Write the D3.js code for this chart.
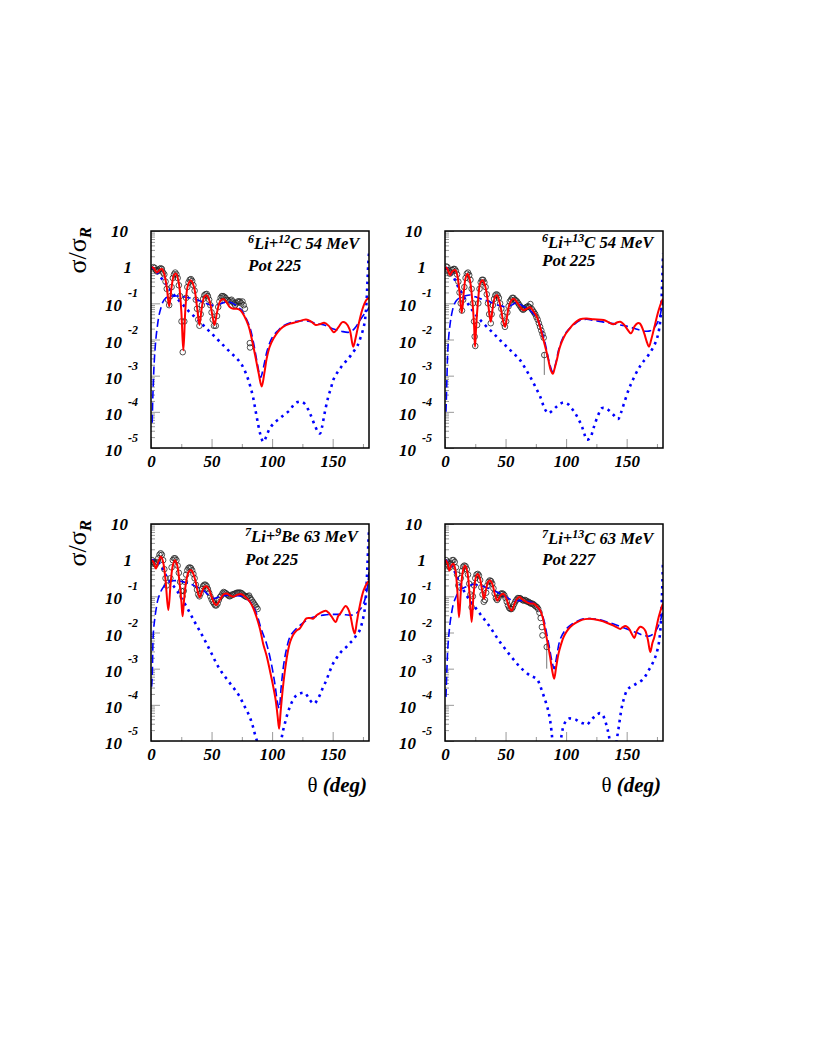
<!DOCTYPE html>
<html><head><meta charset="utf-8">
<script src="https://cdn.jsdelivr.net/npm/d3@7"></script>
<style>body{margin:0;background:#fff}</style>
</head><body>
<svg id="c" width="817" height="1058"></svg>
<script>
// ---- DATA (angles in degrees, values given as log10(sigma/sigma_R)) ----
const xMajorTicks=[0,50,100,150];
const xMinorTicks=[25,75,125,175];
const yDecades=[1,0,-1,-2,-3,-4,-5];
const titleParts=[["6","Li+","12","C 54 MeV"],["6","Li+","13","C 54 MeV"],["7","Li+","9","Be 63 MeV"],["7","Li+","13","C 63 MeV"]];
const potLabels=["Pot 225","Pot 225","Pot 225","Pot 227"];

// Panel 1: 6Li+12C 54 MeV
const red1=[[0.5,0.0],[2,-0.02],[5,-0.15],[7,-0.08],[9,-0.05],[11,-0.2],[13,-0.55],[15,-1.08],[17,-0.55],[19,-0.22],[20.7,-0.18],[23,-0.45],[25,-1.2],[26.7,-2.3],[28.5,-1.1],[30.5,-0.5],[33,-0.37],[35.5,-0.55],[38,-1.1],[40,-1.6],[42,-1.1],[44,-0.82],[46,-0.78],[48.5,-0.95],[50.5,-1.3],[52.4,-1.6],[54.5,-1.25],[57,-0.95],[59.5,-0.88],[62,-0.95],[65,-1.1],[68,-1.15],[71,-1.15],[74,-1.2],[77,-1.35],[80.5,-1.62],[83,-1.95],[86,-2.44],[89,-2.95],[91.4,-3.3],[93.5,-2.95],[95.5,-2.53],[98,-2.2],[101,-1.98],[105,-1.78],[109,-1.65],[115,-1.56],[120,-1.52],[128,-1.45],[132,-1.5],[136,-1.6],[140,-1.57],[143,-1.54],[147,-1.63],[151,-1.8],[155,-1.65],[158,-1.52],[161,-1.55],[164,-1.72],[167,-2.2],[169,-1.95],[170.5,-1.72],[174.5,-1.17],[178,-0.9],[180,-0.85]];
const dash1=[[1,-4.3],[1.5,-3.6],[2.7,-2.6],[4,-2.0],[5,-1.7],[6.5,-1.35],[8,-1.15],[10,-0.95],[12,-0.86],[15,-0.8],[19,-0.8],[23,-0.8],[27,-0.82],[32,-0.85],[38,-0.9],[44,-0.98],[50,-1.05],[54,-1.05],[60,-0.98],[65.5,-0.97],[70,-1.05],[75,-1.2],[79,-1.45],[82,-1.7],[85,-2.15],[88,-2.7],[90.5,-3.05],[93,-2.75],[96,-2.3],[100,-1.95],[105,-1.75],[109,-1.63],[117,-1.52],[125,-1.48],[131,-1.5],[136,-1.55],[143,-1.6],[150,-1.7],[157,-1.77],[163.6,-1.8],[168,-1.7],[172,-1.5],[176,-1.3],[178.6,-1.2],[180,-1.1]];
const dot1=[[0.5,0.0],[4,-0.1],[8,-0.28],[12,-0.45],[16.4,-0.65],[21,-0.85],[27,-1.06],[32,-1.25],[38,-1.43],[43,-1.6],[49,-1.8],[55,-2.0],[60,-2.17],[66,-2.37],[71,-2.53],[75,-2.7],[79,-2.99],[82,-3.3],[84.5,-3.63],[86.5,-4.0],[88.6,-4.37],[90.5,-4.65],[92.7,-4.83],[95,-4.7],[98,-4.46],[102,-4.3],[106,-4.19],[110,-4.08],[114.5,-3.96],[118,-3.8],[121,-3.73],[124,-3.72],[127,-3.78],[130,-3.95],[132,-4.1],[135,-4.35],[138,-4.56],[139.5,-4.6],[141,-4.45],[143,-4.1],[146,-3.63],[148.5,-3.35],[151,-3.08],[154.5,-2.88],[158,-2.72],[162,-2.56],[165,-2.44],[168,-2.3],[170.5,-2.17],[173,-1.95],[176,-1.6],[177.5,-1.2],[178.6,-0.5],[179.4,0.1],[180,0.4]];
const exp1=[[2,0.0],[3,-0.02],[4,-0.08],[5,-0.12],[6,-0.1],[7,-0.05],[8,-0.03],[9,-0.05],[10,-0.15],[11,-0.2],[12,-0.4],[13,-0.6],[14,-0.9],[15,-1.05],[16,-0.8],[17,-0.55],[18,-0.3],[19,-0.2],[20,-0.15],[21,-0.2],[22,-0.3],[23,-0.5],[24,-0.8],[25.2,-1.5],[26.2,-2.35],[27.5,-1.5],[29,-0.85],[30,-0.55],[31,-0.42],[32,-0.35],[33,-0.33],[34,-0.38],[35,-0.5],[36,-0.65],[37,-0.9],[38,-1.15],[39,-1.45],[40,-1.62],[41,-1.3],[42,-1.05],[43,-0.88],[44,-0.78],[45,-0.75],[46,-0.74],[47,-0.8],[48,-0.9],[49,-1.05],[50,-1.25],[51,-1.45],[52,-1.62],[53.5,-1.62],[54.5,-1.35],[55.5,-1.1],[56.5,-0.95],[57.5,-0.85],[58.5,-0.8],[59.5,-0.8],[60.5,-0.82],[61.5,-0.85],[62.5,-0.9],[63.5,-0.92],[64.5,-0.95],[65.5,-0.92],[66.5,-0.9],[67.5,-0.95],[68.5,-1.0],[69.5,-1.05],[70.5,-1.0],[71.5,-0.95],[72.5,-0.95],[73.5,-0.95],[74.5,-1.0],[75.5,-0.95],[76.5,-1.05],[77.5,-1.15],[81.6,-2.1],[81.8,-2.22]];
const err1=[];

// Panel 2: 6Li+13C 54 MeV
const red2=[[0.5,0.0],[2,-0.05],[4.1,-0.22],[6,-0.12],[8.3,-0.08],[10,-0.2],[12,-0.7],[13.8,-1.26],[15.5,-0.7],[17,-0.3],[18.7,-0.18],[20.5,-0.35],[22.5,-0.9],[24,-1.6],[24.8,-2.2],[25.8,-1.6],[27.5,-0.85],[29,-0.45],[31,-0.36],[33,-0.5],[35,-0.85],[36.5,-1.25],[37.8,-1.51],[39.3,-1.15],[41,-0.85],[42.7,-0.77],[44.5,-0.9],[46.5,-1.2],[48,-1.5],[49.6,-1.65],[51.3,-1.35],[53.5,-1.0],[56.5,-0.87],[59,-0.95],[62,-1.1],[64.8,-1.19],[67.5,-1.15],[70.3,-1.11],[73,-1.22],[75.8,-1.37],[78.5,-1.65],[81.3,-2.01],[83.5,-2.3],[85.4,-2.57],[87.3,-2.85],[89,-2.95],[90.5,-2.8],[92.3,-2.57],[94.5,-2.25],[96.5,-2.06],[99,-1.88],[102,-1.74],[106,-1.58],[111.6,-1.44],[117,-1.42],[122.7,-1.44],[131,-1.46],[135,-1.52],[139,-1.58],[142,-1.53],[144.7,-1.51],[147.5,-1.58],[150,-1.69],[153.5,-1.83],[156.6,-1.63],[159,-1.55],[161,-1.56],[164.5,-1.83],[166.5,-2.05],[168.4,-2.2],[170.3,-2.0],[172.3,-1.74],[176.4,-1.19],[179.4,-0.91],[180,-0.88]];
const dash2=[[0.8,-4.0],[1.5,-3.2],[2.2,-2.38],[3,-1.95],[4.1,-1.6],[5.5,-1.3],[7.4,-1.05],[9.5,-0.92],[12.4,-0.84],[16,-0.8],[20.7,-0.77],[25,-0.82],[29,-0.87],[35,-0.93],[40,-1.0],[45,-1.06],[51,-1.1],[55,-1.05],[59,-0.98],[63,-1.05],[67.5,-1.14],[72,-1.25],[75.8,-1.4],[78.5,-1.62],[81.3,-1.92],[84,-2.3],[86.3,-2.66],[89,-2.89],[91.5,-2.65],[93.7,-2.3],[97,-1.98],[100.6,-1.78],[106,-1.6],[111.6,-1.47],[117,-1.44],[122.7,-1.47],[131,-1.52],[139,-1.56],[145,-1.6],[150,-1.63],[156,-1.69],[161,-1.74],[165,-1.77],[169.5,-1.76],[172.5,-1.68],[175,-1.56],[177.5,-1.35],[179,-1.1],[180,-0.95]];
const dot2=[[0.8,0.0],[3.5,-0.12],[6.9,-0.27],[9.5,-0.45],[12.4,-0.64],[16.5,-0.88],[20.7,-1.1],[25,-1.3],[29,-1.46],[34.5,-1.65],[40,-1.83],[45.5,-2.02],[51,-2.2],[56.5,-2.38],[62,-2.57],[66,-2.78],[70.3,-3.03],[74.5,-3.3],[78.6,-3.58],[82.7,-3.94],[85.4,-4.04],[88.5,-3.97],[92.3,-3.85],[95,-3.78],[97.8,-3.74],[100,-3.76],[102,-3.8],[105,-3.92],[107.5,-4.04],[110.5,-4.22],[113,-4.4],[115,-4.6],[117,-4.77],[120,-4.72],[122,-4.52],[124,-4.31],[127,-4.05],[129.5,-3.9],[132.5,-3.9],[135,-3.95],[139,-4.08],[142.8,-4.2],[145,-4.05],[147.5,-3.8],[151.6,-3.39],[154,-3.2],[157,-2.98],[160,-2.8],[162.6,-2.66],[168,-2.43],[173.6,-2.1],[176,-1.85],[177.8,-1.46],[179.4,-0.36],[180,0.37]];
const exp2=[[1,0.02],[2,0.0],[3,-0.1],[4,-0.18],[5,-0.15],[6,-0.08],[7,-0.05],[8,-0.05],[9,-0.1],[10,-0.2],[11,-0.4],[12,-0.7],[13,-1.0],[14,-1.2],[15,-0.9],[16,-0.55],[17,-0.3],[18,-0.18],[19,-0.15],[20,-0.22],[21,-0.35],[22,-0.6],[23,-1.0],[24,-1.5],[24.5,-1.92],[25,-2.18],[26.5,-1.6],[27.5,-1.0],[28.5,-0.6],[29.5,-0.42],[30.5,-0.35],[31.5,-0.35],[32.5,-0.42],[33.5,-0.55],[34.5,-0.75],[35.5,-1.0],[36.5,-1.3],[37.8,-1.55],[38.5,-1.3],[39.5,-1.05],[40.5,-0.88],[41.5,-0.78],[42.5,-0.75],[43.5,-0.78],[44.5,-0.85],[45.5,-1.0],[46.5,-1.15],[47.5,-1.35],[48.5,-1.55],[49.5,-1.65],[50.5,-1.5],[51.5,-1.25],[52.5,-1.08],[53.5,-0.95],[54.5,-0.9],[55.5,-0.85],[56.5,-0.85],[57.5,-0.9],[58.5,-0.92],[59.5,-0.95],[60.5,-1.0],[61.5,-1.05],[62.5,-1.1],[63.5,-1.15],[64.5,-1.18],[65.5,-1.15],[66.5,-1.12],[67.5,-1.1],[68.5,-1.08],[69.5,-1.1],[70.5,-1.02],[71.5,-1.15],[72.5,-1.2],[73.5,-1.25],[74.5,-1.3],[75.5,-1.38],[76.5,-1.45],[77.5,-1.55],[78.5,-1.65],[79.5,-1.75],[80.5,-1.85],[81.5,-1.95],[82,-2.43]];
const err2=[[82,-2.98,-2.35]];

// Panel 3: 7Li+9Be 63 MeV
const red3=[[0.5,0.0],[2,-0.05],[4.1,-0.23],[6,-0.05],[8.2,0.1],[10,-0.05],[12,-0.55],[14.3,-1.38],[16.3,-0.6],[18,-0.15],[19.8,0.0],[21.5,-0.12],[23.5,-0.6],[25,-1.1],[26.1,-1.55],[27.3,-1.1],[29,-0.6],[31,-0.33],[33,-0.27],[35,-0.38],[37,-0.62],[38.8,-0.9],[40.4,-1.03],[42,-0.88],[43.8,-0.75],[45.9,-0.72],[48,-0.82],[50,-1.0],[52,-1.18],[54.1,-1.24],[56,-1.15],[58.5,-1.0],[60.5,-0.93],[62.4,-0.92],[65,-0.97],[67.9,-1.01],[71,-0.96],[74.7,-0.94],[78,-1.02],[81.6,-1.15],[84.5,-1.33],[87.1,-1.57],[90,-1.9],[92.6,-2.31],[95.5,-2.65],[98.1,-3.04],[100.5,-3.42],[103,-3.88],[104.5,-4.3],[105.8,-4.66],[107,-4.2],[109,-3.5],[111,-2.95],[113.2,-2.49],[115,-2.25],[117.3,-2.07],[120,-1.95],[122.8,-1.89],[125.5,-1.75],[128.3,-1.61],[131,-1.6],[133.8,-1.62],[136.5,-1.53],[139.3,-1.47],[144.3,-1.4],[146.5,-1.45],[148.9,-1.55],[152.5,-1.71],[154.5,-1.55],[156.4,-1.47],[160.8,-1.27],[162.8,-1.35],[164.9,-1.57],[166.5,-1.85],[168.2,-2.03],[170,-1.7],[171.7,-1.38],[175.6,-0.83],[179.2,-0.6],[180,-0.58]];
const dash3=[[0.5,-3.5],[1,-3.23],[1.9,-2.03],[3,-1.65],[4.1,-1.38],[5.5,-1.12],[7.4,-0.92],[9.5,-0.78],[11.5,-0.69],[14.5,-0.62],[18.4,-0.57],[22,-0.57],[26.7,-0.6],[30.5,-0.64],[34.9,-0.69],[39,-0.76],[43.1,-0.83],[47,-0.95],[51.4,-1.06],[55.5,-1.02],[59.6,-0.98],[65,-0.97],[70.6,-0.98],[74.7,-1.0],[78.9,-1.06],[83,-1.2],[87.1,-1.48],[91,-1.9],[95.4,-2.31],[99,-2.8],[102.2,-3.4],[104.5,-3.95],[105.8,-4.1],[107.5,-3.5],[109.5,-2.9],[111.8,-2.47],[115,-2.1],[120,-1.89],[125,-1.75],[131,-1.61],[137,-1.55],[142,-1.52],[147,-1.5],[153,-1.5],[158,-1.5],[164,-1.52],[168,-1.5],[172.3,-1.38],[175.5,-1.2],[177.8,-0.92],[179.7,-0.45],[180,-0.3]];
const dot3=[[0.5,0.0],[4,-0.02],[7.4,-0.1],[10,-0.25],[12.9,-0.46],[17,-0.65],[21.2,-0.83],[25,-1.05],[29.4,-1.29],[33.5,-1.55],[37.6,-1.8],[41.8,-2.05],[45.9,-2.31],[50,-2.58],[54.1,-2.86],[58,-3.08],[62.4,-3.28],[66.5,-3.46],[70.6,-3.64],[74,-3.82],[76.1,-3.97],[79,-4.15],[81.6,-4.34],[84,-4.58],[85.7,-4.8],[87.5,-5.0],[89,-5.2],[95,-5.7],[100,-5.9],[104,-5.6],[106.5,-5.2],[107.7,-4.95],[109,-4.72],[110.5,-4.52],[112.5,-4.27],[114.6,-4.06],[117,-3.88],[120,-3.74],[123.5,-3.68],[127,-3.67],[129,-3.75],[131,-3.86],[134.7,-3.97],[137,-3.88],[139.3,-3.74],[142,-3.52],[144.8,-3.32],[147.5,-3.08],[150.3,-2.86],[153,-2.72],[155.8,-2.58],[158.5,-2.48],[161.3,-2.4],[164,-2.3],[166.8,-2.21],[169.5,-2.08],[172.3,-1.94],[174.5,-1.7],[176.4,-1.38],[177.5,-1.0],[178.3,-0.46],[179.7,0.65],[180,0.8]];
const exp3=[[1,0.0],[2,-0.05],[3,-0.1],[4,-0.12],[5,-0.05],[6,0.05],[7,0.15],[8,0.19],[9,0.15],[10,0.0],[11,-0.25],[12,-0.5],[13,-0.7],[16,-0.5],[17,-0.2],[18,0.0],[19,0.05],[20,0.05],[21,0.0],[22,-0.15],[23,-0.35],[24,-0.6],[25,-0.85],[26,-1.0],[27,-0.85],[28,-0.6],[29,-0.4],[30,-0.28],[31,-0.22],[32,-0.2],[33,-0.22],[34,-0.28],[35,-0.38],[36,-0.5],[37,-0.68],[38,-0.82],[39,-0.95],[40,-1.0],[41,-0.92],[42,-0.8],[43,-0.72],[44,-0.68],[45,-0.68],[46,-0.72],[47,-0.8],[48,-0.9],[49,-1.0],[50,-1.08],[51,-1.15],[52,-1.2],[53,-1.25],[54,-1.25],[55,-1.2],[56,-1.1],[57,-1.02],[58,-0.98],[59,-0.92],[60,-0.88],[61,-0.9],[62,-0.92],[63,-0.95],[64,-0.98],[65,-1.0],[66,-0.98],[67,-0.95],[68,-0.95],[69,-0.93],[70,-0.92],[71,-0.9],[72,-0.9],[73,-0.9],[74,-0.9],[75,-0.92],[76,-0.95],[77,-0.98],[78,-1.0],[79,-1.02],[80,-1.0],[81,-0.98],[82,-1.05],[83,-1.1],[84,-1.15],[85,-1.2],[86,-1.25],[87,-1.3],[88,-1.35]];
const err3=[];

// Panel 4: 7Li+13C 63 MeV
const red4=[[0.5,0.0],[2,-0.08],[3.6,-0.29],[5.2,-0.15],[6.9,-0.1],[8.5,-0.25],[10,-0.75],[11.6,-1.58],[13.2,-0.8],[14.8,-0.3],[16.5,-0.15],[18.3,-0.3],[20.3,-0.95],[22,-1.71],[23.6,-0.95],[25.3,-0.5],[27,-0.38],[28.8,-0.5],[30.5,-0.8],[32.2,-1.07],[34,-0.8],[35.6,-0.6],[37.2,-0.56],[39,-0.65],[41.2,-0.95],[43.3,-1.12],[45.6,-0.98],[48.2,-0.93],[50.5,-1.05],[53,-1.3],[55.1,-1.39],[57.5,-1.2],[59.5,-1.07],[61.5,-1.02],[64.5,-1.1],[67.5,-1.16],[70.3,-1.2],[73,-1.2],[76,-1.28],[78.6,-1.39],[80.8,-1.6],[82.7,-1.94],[84.8,-2.3],[86.8,-2.68],[88.5,-3.05],[90.1,-3.28],[91.8,-2.95],[93.7,-2.59],[95.8,-2.33],[97.9,-2.13],[100.5,-1.97],[103.4,-1.85],[107.5,-1.74],[111.6,-1.67],[115.7,-1.63],[119.9,-1.62],[124,-1.64],[128.2,-1.67],[133.5,-1.73],[139.2,-1.81],[142,-1.86],[144.7,-1.9],[146.8,-1.85],[148.8,-1.82],[150.6,-1.85],[152.4,-1.92],[154.4,-2.05],[156.3,-2.15],[158.5,-1.95],[161.2,-1.84],[163.4,-1.87],[165.4,-1.95],[167.5,-2.2],[169.5,-2.54],[171.2,-2.3],[172.8,-2.13],[174.6,-1.85],[176.4,-1.58],[179.4,-1.25],[180,-1.2]];
const dash4=[[0.8,-3.78],[1.5,-3.1],[2.2,-2.5],[3.1,-2.1],[4.1,-1.76],[5.5,-1.45],[6.9,-1.21],[9,-1.02],[11,-0.89],[13.5,-0.8],[16.5,-0.75],[20,-0.7],[23.4,-0.67],[27.5,-0.69],[31.7,-0.73],[36,-0.78],[40,-0.84],[44,-0.9],[48.2,-0.98],[52,-1.05],[56.5,-1.12],[60.5,-1.12],[64.8,-1.12],[69,-1.15],[73,-1.19],[76.5,-1.3],[79.9,-1.48],[82,-1.7],[84,-2.04],[86,-2.38],[88.2,-2.78],[90.1,-3.0],[92,-2.7],[95,-2.2],[99,-1.95],[103.4,-1.8],[108.5,-1.7],[114.4,-1.62],[121,-1.62],[128.2,-1.65],[135,-1.72],[142,-1.8],[147.5,-1.87],[153,-1.94],[158.5,-2.01],[164,-2.08],[168.5,-2.1],[172.3,-2.03],[175,-1.9],[177.8,-1.68],[179.7,-1.4],[180,-1.3]];
const dot4=[[0.5,0.0],[3.5,-0.1],[6.9,-0.24],[9.5,-0.43],[12.4,-0.66],[16.5,-0.9],[20.7,-1.12],[24.8,-1.3],[28.9,-1.48],[33,-1.66],[37.2,-1.85],[41.3,-2.06],[45.5,-2.27],[49.6,-2.45],[53.7,-2.63],[58,-2.8],[62,-2.96],[66,-3.08],[70.3,-3.19],[73,-3.23],[75.8,-3.28],[78,-3.42],[79.9,-3.6],[82,-3.8],[84,-4.01],[85.5,-4.2],[86.8,-4.43],[88,-4.75],[89,-5.1],[91,-5.6],[93,-5.6],[95,-5.1],[96.5,-4.8],[97.9,-4.57],[100,-4.45],[102,-4.38],[105,-4.38],[107.5,-4.4],[110,-4.45],[113,-4.5],[115,-4.52],[117.1,-4.55],[120,-4.45],[122.7,-4.35],[125.5,-4.27],[128.2,-4.23],[130.5,-4.3],[132.3,-4.45],[133.8,-4.62],[135,-4.8],[136.3,-5.05],[138,-5.5],[140,-5.5],[141.5,-5.05],[143.3,-4.65],[146,-4.06],[148,-3.8],[150.2,-3.6],[152.5,-3.52],[155.7,-3.46],[159,-3.4],[162.6,-3.32],[165.5,-3.2],[168.1,-3.05],[171,-2.88],[173.6,-2.68],[176,-2.4],[177.8,-1.94],[179.2,-0.93],[180,0.0]];
const exp4=[[1,0.0],[2,-0.05],[3,-0.15],[4,-0.2],[5,-0.1],[6,0.0],[7,0.0],[8,-0.05],[9,-0.2],[10,-0.4],[11,-0.7],[12,-0.75],[13,-0.5],[14,-0.3],[15,-0.18],[16,-0.15],[17,-0.17],[18,-0.25],[19,-0.4],[20,-0.65],[21,-0.95],[22,-1.3],[23,-1.0],[24,-0.7],[25,-0.5],[26,-0.4],[27,-0.38],[28,-0.42],[29,-0.55],[30,-0.75],[31,-0.95],[32,-1.15],[33,-1.1],[34,-0.9],[35,-0.7],[36,-0.6],[37,-0.56],[38,-0.58],[39,-0.65],[40,-0.78],[41,-0.92],[42,-1.05],[43,-1.1],[44,-1.05],[45,-0.98],[46,-0.93],[47,-0.92],[48,-0.93],[49,-0.97],[50,-1.05],[51,-1.15],[52,-1.25],[53,-1.32],[54,-1.35],[55,-1.35],[56,-1.3],[57,-1.22],[58,-1.15],[59,-1.1],[60,-1.05],[61,-1.05],[62,-1.05],[63,-1.08],[64,-1.1],[65,-1.12],[66,-1.1],[67,-1.12],[68,-1.15],[69,-1.15],[70,-1.18],[71,-1.2],[72,-1.2],[73,-1.22],[74,-1.25],[75,-1.28],[76,-1.3],[77,-1.35],[78,-1.45],[79,-1.6],[80,-1.85],[80.5,-2.08],[84,-2.4]];
const err4=[[84,-3.0,-2.3]];

const panels=[
 {red:red1,dash:dash1,dot:dot1,exp:exp1,err:err1},
 {red:red2,dash:dash2,dot:dot2,exp:exp2,err:err2},
 {red:red3,dash:dash3,dot:dot3,exp:exp3,err:err3},
 {red:red4,dash:dash4,dot:dot4,exp:exp4,err:err4}];

// ---- LAYOUT ----
const W=218,H=217;
const layout=[{l:151,t:231},{l:445,t:231},{l:151,t:524},{l:445,t:524}];
const titleOff=[[97,18,40],[97,17,35],[94,18,41],[97,20,41]];
const FONT="'Liberation Serif','Times New Roman',serif";
const svg=d3.select("#c");
const defs=svg.append("defs");

panels.forEach((p,i)=>{
  const L=layout[i];
  const x=d3.scaleLinear().domain([0,180]).range([L.l,L.l+W]);
  const y=d3.scaleLog().domain([1e-5,10]).range([L.t+H,L.t]);
  const g=svg.append("g");
  defs.append("clipPath").attr("id","clip"+i).append("rect")
    .attr("x",L.l).attr("y",L.t).attr("width",W).attr("height",H);

  // y ticks
  const minor=[];
  for(let e=-5;e<1;e++) for(let m=2;m<10;m++) minor.push(m*Math.pow(10,e));
  const yMinor=g.append("g").attr("transform",`translate(${L.l},0)`)
    .call(d3.axisLeft(y).tickValues(minor).tickSize(-4).tickFormat(""));
  const yMajor=g.append("g").attr("transform",`translate(${L.l},0)`)
    .call(d3.axisLeft(y).tickValues(yDecades.map(d=>Math.pow(10,d))).tickSize(-9).tickFormat(""));
  // x ticks
  const xMinor=g.append("g").attr("transform",`translate(0,${L.t+H})`)
    .call(d3.axisBottom(x).tickValues(xMinorTicks).tickSize(-4).tickFormat(""));
  const xMajor=g.append("g").attr("transform",`translate(0,${L.t+H})`)
    .call(d3.axisBottom(x).tickValues(xMajorTicks).tickSize(-9).tickPadding(7).tickFormat(d3.format("d")));
  [yMinor,yMajor,xMinor,xMajor].forEach(a=>{
    a.select(".domain").remove();
    a.selectAll(".tick line").attr("stroke","#999").attr("stroke-width",1);
  });
  xMajor.selectAll(".tick text").attr("font-family",FONT).attr("font-size",17)
    .attr("font-weight","bold").attr("font-style","italic").attr("fill","#000");

  // y labels
  yDecades.forEach(d=>{
    const yy=y(Math.pow(10,d));
    const t=g.append("text").attr("font-family",FONT).attr("font-weight","bold")
      .attr("font-style","italic").attr("font-size",17).attr("text-anchor","end");
    if(d===1){ t.attr("x",L.l-23).attr("y",yy+6).text("10"); }
    else if(d===0){ t.attr("x",L.l-19).attr("y",yy+6).text("1"); }
    else{
      t.attr("x",L.l-29).attr("y",yy+8).text("10");
      g.append("text").attr("font-family",FONT).attr("font-weight","bold")
        .attr("font-style","italic").attr("font-size",12).attr("x",L.l-23).attr("y",yy-6).text(String(d));
    }
  });

  const plot=g.append("g").attr("clip-path",`url(#clip${i})`);
  const line=d3.line().x(d=>x(d[0])).y(d=>y(Math.pow(10,d[1]))).curve(d3.curveCatmullRom.alpha(0.5));

  // error bars
  plot.selectAll("line.err").data(p.err).join("line")
    .attr("x1",d=>x(d[0])).attr("x2",d=>x(d[0]))
    .attr("y1",d=>y(Math.pow(10,d[1]))).attr("y2",d=>y(Math.pow(10,d[2])))
    .attr("stroke","#666").attr("stroke-width",0.9);
  // data
  plot.selectAll("circle").data(p.exp).join("circle")
    .attr("cx",d=>x(d[0])).attr("cy",d=>y(Math.pow(10,d[1]))).attr("r",2.8)
    .attr("fill","none").attr("stroke","#222").attr("stroke-width",0.8);
  // dotted
  plot.append("path").datum(p.dot).attr("d",line).attr("fill","none")
    .attr("stroke","#0000ff").attr("stroke-width",2.6).attr("stroke-dasharray","2.6,4.4");
  // dashed
  plot.append("path").datum(p.dash).attr("d",line).attr("fill","none")
    .attr("stroke","#0000ff").attr("stroke-width",1.6).attr("stroke-dasharray","8,4");
  // red
  plot.append("path").datum(p.red).attr("d",line).attr("fill","none")
    .attr("stroke","#ff0000").attr("stroke-width",2);

  // frame
  g.append("rect").attr("x",L.l).attr("y",L.t).attr("width",W).attr("height",H)
    .attr("fill","none").attr("stroke","#000").attr("stroke-width",1.5);

  // titles
  const off=titleOff[i];
  const tt=g.append("text").attr("x",L.l+off[0]).attr("y",L.t+off[1])
    .attr("font-family",FONT).attr("font-weight","bold").attr("font-style","italic").attr("font-size",16.6);
  const parts=titleParts[i];
  tt.append("tspan").attr("font-size",12).attr("dy",-6).text(parts[0]);
  tt.append("tspan").attr("dy",6).text(parts[1]);
  tt.append("tspan").attr("font-size",12).attr("dy",-6).text(parts[2]);
  tt.append("tspan").attr("dy",6).text(parts[3]);
  g.append("text").attr("x",L.l+off[0]).attr("y",L.t+off[2])
    .attr("font-family",FONT).attr("font-weight","bold").attr("font-style","italic").attr("font-size",17)
    .text(potLabels[i]);

  // axis titles
  if(i===0||i===2){
    const yt=g.append("text").attr("transform",`translate(86,${L.t-4}) rotate(-90)`)
      .attr("text-anchor","end").attr("font-family",FONT).attr("font-size",26);
    yt.append("tspan").text("σ/σ");
    yt.append("tspan").attr("font-size",17).attr("font-weight","bold").attr("font-style","italic").attr("dy",5).text("R");
  }
  if(i>=2){
    const xt=g.append("text").attr("x",L.l+W-2).attr("y",792).attr("text-anchor","end")
      .attr("font-family",FONT).attr("font-size",21);
    xt.append("tspan").text("θ ");
    xt.append("tspan").attr("font-weight","bold").attr("font-style","italic").text("(deg)");
  }
});
</script>
</body></html>
